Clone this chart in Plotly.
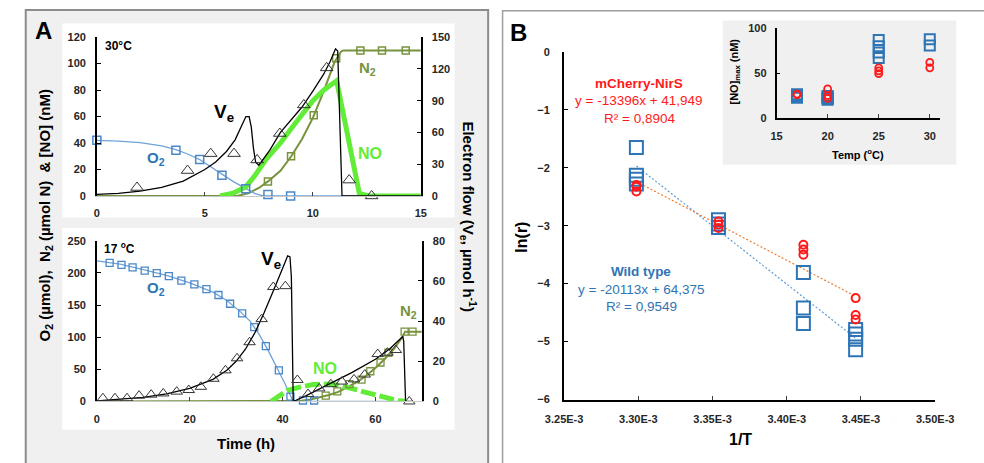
import plotly.graph_objects as go

W, H = 984, 463
def fx(p): return p / W
def fy(p): return 1 - p / H

# ---------------- Panel A, top (30 °C) ----------------
o2_30_line_t = [0, 1, 2, 3, 3.66, 4.2, 4.76, 5.3, 5.79, 6.3, 6.89, 7.3, 7.7, 15]
o2_30_line = [42, 41.5, 40.3, 37.8, 35, 31.7, 27.5, 22, 16.5, 11, 5.5, 2, 0, 0]
o2_30_t = [0, 3.66, 4.76, 5.79, 6.89, 7.92, 8.97]
o2_30 = [42, 34.6, 27.5, 15.7, 5.4, 1, 0]

ve_30_line_t = [0, 1, 2, 3, 4, 5, 5.5, 6, 6.4, 6.7, 6.9, 7.05, 7.15, 7.25, 7.35, 7.5,
                8, 8.5, 9, 9.5, 10, 10.5, 10.8, 11.05, 11.15, 11.35, 15]
ve_30_line = [1.5, 2.5, 4.5, 8, 14, 25, 32, 42, 53, 66, 75, 75, 65, 45, 32, 29,
              43, 60, 72, 84, 99, 115, 127, 139, 137, 0, 0]
ve_30_t = [1.86, 4.2, 5.27, 6.35, 7.42, 8.47, 9.58, 10.64, 11.68, 12.72]
ve_30 = [8, 24, 40, 40, 34, 59, 86, 121, 15, 0]

n2_30_line_t = [0, 6.5, 7, 7.5, 7.92, 8.5, 9, 9.5, 10, 10.5, 11, 11.3, 11.4, 15]
n2_30_line = [0, 0, 2, 6, 11, 19, 30, 43, 59, 79, 101, 109, 110, 110]
n2_30_t = [7.92, 8.99, 10.04, 11.08, 12.2, 13.2, 14.3]
n2_30 = [11, 30, 61, 104, 110, 110, 110]

no_30_t = [5.7, 6.3, 6.9, 7.3, 7.8, 8.5, 9, 9.5, 10, 10.5, 11.1, 12.15, 12.6, 15]
no_30 = [0, 2, 7, 15, 27, 40, 51, 62, 72, 80, 87, 2, 0, 0]

# ---------------- Panel A, bottom (17 °C) ----------------
o2_17_line_t = [0, 5, 10, 15, 20, 25, 28, 31, 33, 35, 37, 39, 40.5, 41.5, 42.3, 65]
o2_17_line = [218.6, 213.5, 205, 196, 184.5, 170, 157, 139, 125, 104, 78, 50, 28, 12, 0, 0]
o2_17_t = [2.75, 5.3, 7.7, 10.3, 12.9, 15.5, 18.2, 21.0, 23.6, 26.2, 28.7, 31.3, 33.9,
           36.4, 39.2, 41.7, 44.4, 46.8]
o2_17 = [215.6, 212.6, 208.6, 203.5, 199.5, 195, 188, 182, 174.7, 165.6, 152, 137, 115.5,
         86, 48.5, 7.6, 1.5, 1.5]

ve_17_line_t = [0, 5, 10, 15, 20, 25, 28, 30, 32, 34, 36, 38, 39.5, 40.5, 41.1, 41.6, 41.9,
                42.1, 42.3, 45, 50, 55, 60, 63, 65.9, 66.1, 66.5, 68]
ve_17_line = [0.3, 1, 2, 3.8, 6.5, 11, 15.5, 20, 26, 34, 44, 55, 63, 69, 72.5, 72, 62,
              30, 0, 2.8, 8.5, 14.5, 21, 26, 32.3, 30, 0, 0]
ve_17_t = [1.3, 3.9, 6.5, 9.1, 11.7, 14.3, 17.2, 19.8, 22.4, 25.1, 27.7, 30.2, 32.9, 35.5,
           38.0, 40.6, 43.2, 45.5, 47.9, 50.4, 52.8, 55.4, 57.7, 60.5, 62.6, 64.4, 67.3]
ve_17 = [1.6, 1.6, 1.6, 2.9, 3.4, 4, 4.9, 5.7, 7.3, 11.3, 15.5, 21.5, 29.5, 41,
         57, 57.4, 10.7, 3.7, 6.5, 8.6, 9.9, 11, 13.4, 23.6, 24.3, 25.6, 0]

n2_17_line_t = [0, 42, 44, 46, 48, 50, 52, 54, 56, 58, 60, 62, 64, 65.8, 66.4, 70]
n2_17_line = [0, 0, 1, 3, 6, 10, 15, 22, 30, 40, 52, 66, 82, 100, 108.6, 108.6]
n2_17_t = [49.3, 51.8, 54.4, 57.0, 58.9, 61.1, 62.8, 66.3, 68.0]
n2_17 = [9, 15.6, 27, 34, 47, 60.6, 75.8, 108.6, 108.6]

no_17_t = [37.5, 39, 41, 43.5, 46.6, 50.8, 53.5, 55.6, 57.5, 59.7, 61.5, 63.2, 65, 66.6]
no_17 = [0, 8, 17, 22, 26.5, 27, 23.5, 19, 15, 10.6, 6, 2.6, 1, 0.5]

# ---------------- Panel B, Arrhenius ----------------
wt_invT = [3.2987e-3, 3.2987e-3, 3.2987e-3, 3.2987e-3, 3.3540e-3, 3.3540e-3, 3.3540e-3,
           3.4112e-3, 3.4112e-3, 3.4112e-3, 3.4464e-3, 3.4464e-3, 3.4464e-3, 3.4464e-3]
wt_lnr = [-1.65, -2.13, -2.2, -2.28, -2.9, -2.97, -3.03, -3.81, -4.42, -4.69,
          -4.79, -4.87, -4.96, -5.14]
mc_invT = [3.2987e-3, 3.2987e-3, 3.2987e-3, 3.3540e-3, 3.3540e-3, 3.3540e-3,
           3.4112e-3, 3.4112e-3, 3.4112e-3, 3.4464e-3, 3.4464e-3, 3.4464e-3]
mc_lnr = [-2.3, -2.33, -2.41, -2.93, -2.98, -3.04, -3.33, -3.41, -3.5, -4.25, -4.54, -4.62]
fit_range = [3.2987e-3, 3.4464e-3]
wt_fit = (-20113, 64.375)
mc_fit = (-13396, 41.949)
b_xticks = [3.25e-3, 3.30e-3, 3.35e-3, 3.40e-3, 3.45e-3, 3.50e-3]
b_xticktext = ["3.25E-3", "3.30E-3", "3.35E-3", "3.40E-3", "3.45E-3", "3.50E-3"]

# ---------------- Inset: NO max vs temperature ----------------
wt_temp = [17, 17, 17, 17, 17, 20, 20, 20, 20, 20, 25, 25, 25, 25, 30, 30]
wt_nomax = [22.5, 23.5, 24.5, 25.5, 26.5, 20.5, 21.5, 22.5, 23.5, 24.5, 67, 73, 80, 87, 81, 88]
mc_temp = [17, 17, 20, 20, 20, 25, 25, 25, 30, 30]
mc_nomax = [26, 26.5, 22, 25, 32.5, 49.5, 52.5, 56, 56, 62]

BLUE = "#2e75b6"
O2C = "#4a88c8"
OLIVE = "#77933c"
LIME = "#62ec38"
RED = "#ff1a1a"
TICKF = dict(family="Liberation Sans, Arial", size=11, color="#262626", weight="bold")

fig = go.Figure()

def sc(**kw):
    kw.setdefault("cliponaxis", False)
    kw.setdefault("showlegend", False)
    fig.add_trace(go.Scatter(**kw))

# top A
sc(x=n2_30_line_t, y=n2_30_line, mode="lines", line=dict(color=OLIVE, width=2), xaxis="x", yaxis="y")
sc(x=o2_30_line_t, y=o2_30_line, mode="lines", line=dict(color="#6fa3d8", width=1.3), xaxis="x", yaxis="y")
sc(x=no_30_t, y=no_30, mode="lines", line=dict(color=LIME, width=5), xaxis="x", yaxis="y")
sc(x=o2_30_t, y=o2_30, mode="markers", marker=dict(symbol="square-open", size=8, color=O2C, line=dict(width=1.5)), xaxis="x", yaxis="y")
sc(x=n2_30_t, y=n2_30, mode="markers", marker=dict(symbol="square-open", size=7, color=OLIVE, line=dict(width=1.5)), xaxis="x", yaxis="y")
sc(x=ve_30_line_t, y=ve_30_line, mode="lines", line=dict(color="black", width=1.3), xaxis="x", yaxis="y2")
sc(x=ve_30_t, y=ve_30, mode="markers", marker=dict(symbol="triangle-up-open", size=11, color="#333333", line=dict(width=1)), xaxis="x", yaxis="y2")

# bottom A
sc(x=n2_17_line_t, y=n2_17_line, mode="lines", line=dict(color=OLIVE, width=2), xaxis="x2", yaxis="y3")
sc(x=o2_17_line_t, y=o2_17_line, mode="lines", line=dict(color="#6fa3d8", width=1.3), xaxis="x2", yaxis="y3")
sc(x=no_17_t, y=no_17, mode="lines", line=dict(color=LIME, width=5, dash="15px,4px"), xaxis="x2", yaxis="y3")
sc(x=o2_17_t, y=o2_17, mode="markers", marker=dict(symbol="square-open", size=7, color=O2C, line=dict(width=1.3)), xaxis="x2", yaxis="y3")
sc(x=n2_17_t, y=n2_17, mode="markers", marker=dict(symbol="square-open", size=7, color=OLIVE, line=dict(width=1.3)), xaxis="x2", yaxis="y3")
sc(x=ve_17_line_t, y=ve_17_line, mode="lines", line=dict(color="black", width=1.3), xaxis="x2", yaxis="y4")
sc(x=ve_17_t, y=ve_17, mode="markers", marker=dict(symbol="triangle-up-open", size=10, color="#333333", line=dict(width=1)), xaxis="x2", yaxis="y4")

# B main
sc(x=fit_range, y=[wt_fit[0] * v + wt_fit[1] for v in fit_range], mode="lines",
   line=dict(color="#5b9bd5", width=1.2, dash="2px,2px"), xaxis="x3", yaxis="y5")
sc(x=fit_range, y=[mc_fit[0] * v + mc_fit[1] for v in fit_range], mode="lines",
   line=dict(color="#ed7d31", width=1.2, dash="2px,2px"), xaxis="x3", yaxis="y5")
sc(x=wt_invT, y=wt_lnr, mode="markers", marker=dict(symbol="square-open", size=13, color=BLUE, line=dict(width=2)), xaxis="x3", yaxis="y5")
sc(x=mc_invT, y=mc_lnr, mode="markers", marker=dict(symbol="circle-open", size=8, color=RED, line=dict(width=2)), xaxis="x3", yaxis="y5")

# inset
sc(x=wt_temp, y=wt_nomax, mode="markers", marker=dict(symbol="square-open", size=10, color=BLUE, line=dict(width=2)), xaxis="x4", yaxis="y6")
sc(x=mc_temp, y=mc_nomax, mode="markers", marker=dict(symbol="circle-open", size=7, color=RED, line=dict(width=1.8)), xaxis="x4", yaxis="y6")

def xax(domain, rng, anchor, tickvals, ticktext=None, linecolor="#c8c8c8", lw=1, standoff=6):
    d = dict(domain=domain, range=rng, anchor=anchor, tickvals=tickvals, ticks="inside", ticklen=4,
             tickcolor="#404040", showline=True, linecolor=linecolor, linewidth=lw, showgrid=False,
             zeroline=False, tickfont=TICKF, ticklabelstandoff=standoff, fixedrange=True)
    if ticktext is not None:
        d["ticktext"] = ticktext
    return d

def yax(domain, rng, anchor, dtick, side="left", overlaying=None, lw=1.5, standoff=6):
    d = dict(range=rng, anchor=anchor, dtick=dtick, tick0=0, ticks="inside", ticklen=4, tickcolor="black",
             showline=True, linecolor="black", linewidth=lw, showgrid=False, zeroline=False,
             tickfont=TICKF, side=side, ticklabelstandoff=standoff, fixedrange=True)
    if overlaying:
        d["overlaying"] = overlaying
    else:
        d["domain"] = domain
    return d

layout = dict(
    width=W, height=H, margin=dict(l=0, r=0, t=0, b=0),
    paper_bgcolor="white", plot_bgcolor="rgba(0,0,0,0)", showlegend=False,
    font=dict(family="Liberation Sans, Arial", color="black"),
    xaxis=xax([fx(81), fx(418)], [0, 15], "y", [0, 5, 10, 15], standoff=7),
    yaxis=yax([fy(195), fy(32)], [0, 120], "x", 20, standoff=7),
    yaxis2=yax(None, [0, 150], "x", 30, side="right", overlaying="y", standoff=7),
    xaxis2=xax([fx(81), fx(419)], [0, 70], "y3", [0, 20, 40, 60], standoff=7),
    yaxis3=yax([fy(406), fy(241)], [0, 250], "x2", 50, standoff=7),
    yaxis4=yax(None, [0, 80], "x2", 20, side="right", overlaying="y3", standoff=7),
    xaxis3=xax([fx(567), fx(953)], [3.25e-3, 3.50e-3], "y5", b_xticks, b_xticktext,
               linecolor="black", lw=2, standoff=8),
    yaxis5=yax([fy(404), fy(47)], [-6, 0], "x3", 1, lw=2, standoff=10),
    xaxis4=xax([fx(788), fx(958)], [15, 31], "y6", [15, 20, 25, 30],
               linecolor="black", lw=1.5, standoff=7),
    yaxis6=yax([fy(115), fy(23)], [0, 100], "x4", 50, lw=1.5, standoff=6),
)
fig.update_layout(**layout)

shapes = [
    dict(type="rect", xref="paper", yref="paper", x0=fx(7), x1=fx(488), y0=-0.05, y1=fy(4),
         fillcolor="#f0f0f0", line=dict(color="#8c8c8c", width=2), layer="below"),
    dict(type="rect", xref="paper", yref="paper", x0=fx(45), x1=fx(453), y0=fy(217), y1=fy(18),
         fillcolor="white", line=dict(width=0), layer="below"),
    dict(type="rect", xref="paper", yref="paper", x0=fx(45), x1=fx(453), y0=fy(435), y1=fy(228),
         fillcolor="white", line=dict(width=0), layer="below"),
    dict(type="rect", xref="paper", yref="paper", x0=fx(503), x1=1.05, y0=-0.05, y1=fy(5),
         fillcolor="white", line=dict(color="#9e9e9e", width=1.5), layer="below"),
    dict(type="rect", xref="paper", yref="paper", x0=fx(732), x1=fx(975), y0=fy(163), y1=fy(15),
         fillcolor="#f0f0f0", line=dict(width=0), layer="below"),
]
fig.update_layout(shapes=shapes)

def ann(text, x, y, size=12, color="black", angle=0, bold=True):
    t = f"<b>{text}</b>" if bold else text
    fig.add_annotation(text=t, x=fx(x), y=fy(y), xref="paper", yref="paper", showarrow=False,
                       xanchor="center", yanchor="middle", textangle=angle,
                       font=dict(size=size, color=color, family="Liberation Sans, Arial"))

ann("A", 25, 25, 24)
ann("B", 520, 27, 24)
ann("30°C", 104, 41, 12)
ann("17 <sup>o</sup>C", 105, 248, 12)
ann("V<sub>e</sub>", 213, 110, 19)
ann("O<sub>2</sub>", 142, 157, 15, BLUE)
ann("N<sub>2</sub>", 362, 64, 15, OLIVE)
ann("NO", 365, 151, 16, LIME)
ann("V<sub>e</sub>", 262, 261, 19)
ann("O<sub>2</sub>", 143, 290, 15, BLUE)
ann("NO", 318, 372, 16, LIME)
ann("N<sub>2</sub>", 405, 314, 15, OLIVE)
ann("Time (h)", 236, 449, 15)
ann("O<sub>2</sub> (µmol),  N<sub>2</sub> (µmol N)  & [NO] (nM)", 27, 215, 15, angle=-90)
ann("Electron flow (V<sub>e</sub>, µmol h<sup>-1</sup>)", 468, 217, 15, angle=90)
ann("mCherry-NirS", 645, 80, 13.5, RED)
ann("y = -13396x + 41,949", 645, 97, 13.5, RED, bold=False)
ann("R² = 0,8904", 645, 115, 13.5, RED, bold=False)
ann("Wild type", 647, 273, 13.5, BLUE)
ann("y = -20113x + 64,375", 647, 291, 13.5, BLUE, bold=False)
ann("R² = 0,9549", 647, 309, 13.5, BLUE, bold=False)
ann("ln(r)", 523, 237, 16, angle=-90)
ann("1/T", 750, 445, 16)
ann("[NO]<sub>max</sub> (nM)", 745, 67, 11, angle=-90)
ann("Temp (<sup>o</sup>C)", 873, 152, 11)

fig.write_html("out.html", config={"displayModeBar": False},
               post_script="document.body.style.margin='0';document.body.style.overflow='hidden';")
